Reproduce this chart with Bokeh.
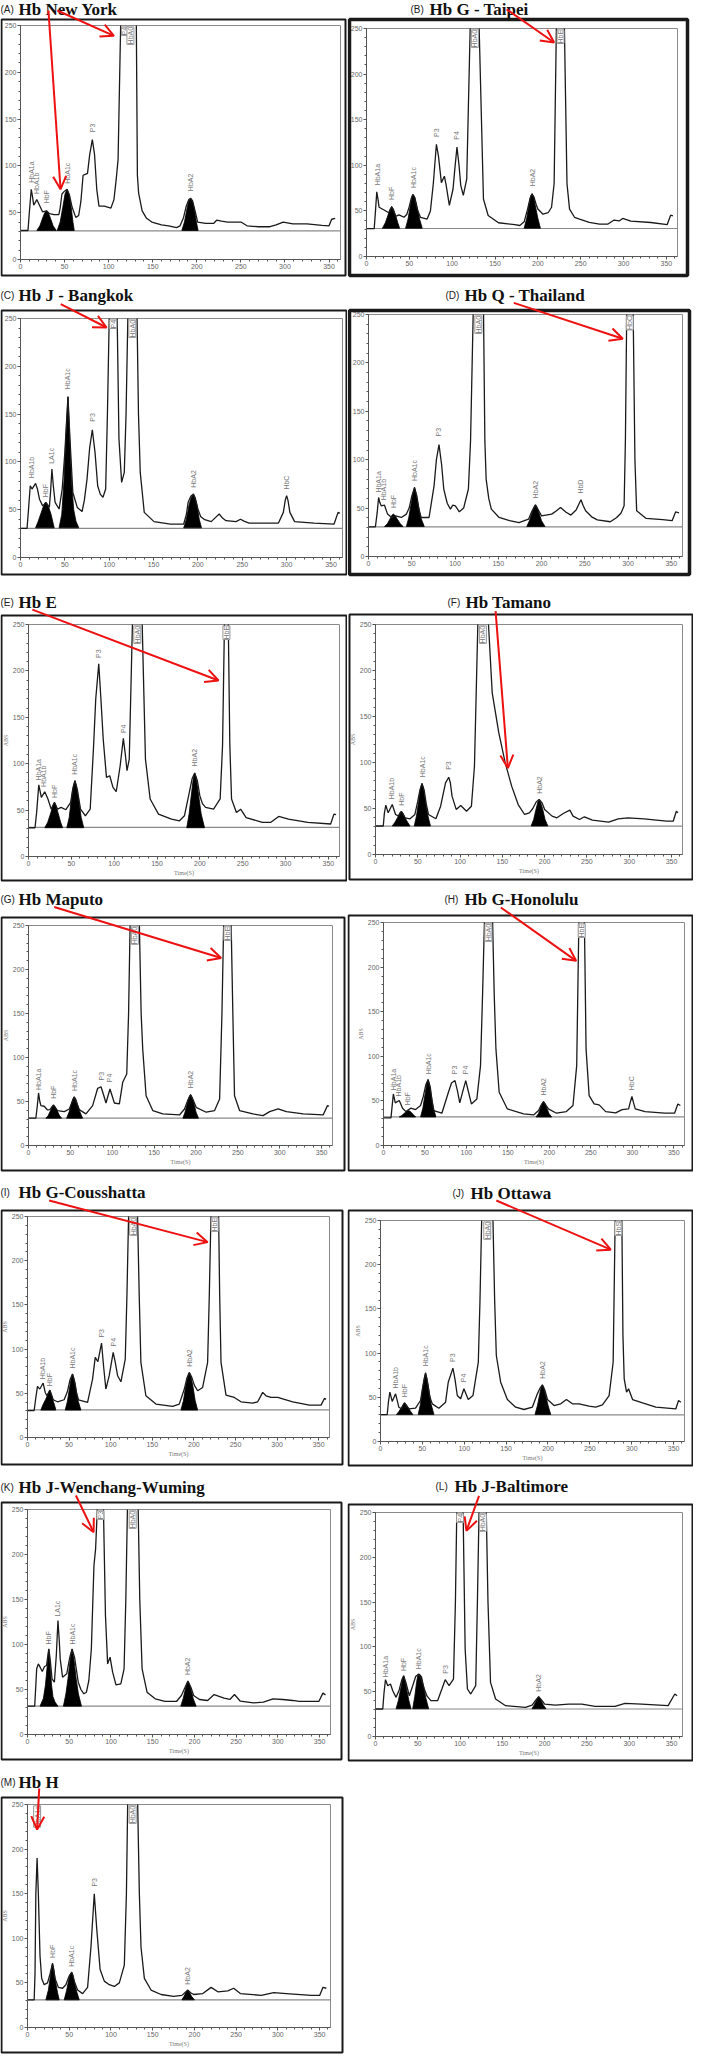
import math
from bokeh.plotting import figure
from bokeh.layouts import column, row
from bokeh.models import Range1d, FixedTicker, BoxAnnotation, Label, Arrow, OpenHead
from bokeh.core.properties import value
from bokeh.embed import file_html
from bokeh.resources import INLINE

# ---------------- data (time s, absorbance) ----------------
X_MAX = 363
Y_MAX = 250
OFF = float("nan")   # peak apex off the 250 scale (not drawn)
X_TICKS = [0, 50, 100, 150, 200, 250, 300, 350]
Y_TICKS = [0, 50, 100, 150, 200, 250]
BASELINE = {"A": 30.5, "B": 30.7, "C": 30.5, "D": 30.7, "E": 31.3, "F": 30.8, "G": 31,
            "H": 32, "I": 31.3, "J": 30.2, "K": 31.5, "L": 30.7, "M": 31}

TITLES = {"A": "Hb New York", "B": "Hb G  - Taipei", "C": "Hb J - Bangkok", "D": "Hb Q  - Thailand",
          "E": "Hb E", "F": "Hb Tamano", "G": "Hb Maputo", "H": "Hb G-Honolulu",
          "I": "Hb G-Cousshatta", "J": "Hb Ottawa", "K": "Hb J-Wenchang-Wuming",
          "L": "Hb J-Baltimore", "M": "Hb H"}

CURVE_A = [(0,31),(8.5,31),(10,50),(12.2,75),(13.5,68),(15,58),(18.5,64),(21,59),(25,51),(29.5,52),(33,49),(38,48),(43.5,48),(45,55),(47,70),(50,73),(52.8,75),(55.5,69),(58.5,56),(62.7,45),(66,47),(68.5,62),(71,90),(73.5,91),(76,92),(78.5,112),(81.5,128),(84,112),(86.5,75),(89,57),(95,57),(102.6,55),(106,64),(108.5,85),(110.7,107),(113.6,250),(122,OFF),(131.4,250),(132.6,90),(134,71),(138,52),(143,44),(149,40),(160,37),(168,36),(177,34),(181,36),(185,45),(188,57),(191,64),(193,65.5),(195,63),(198,52),(201,40),(210,38.5),(219,38.5),(222.5,42),(228,41),(235,40),(250,40),(257,36),(270,35),(283,35),(290,37),(298,40),(309,38),(325,38),(342,36.5),(350,36),(353,43),(357,44)]
CURVE_B = [(0,30.5),(9,30.5),(10.5,50),(12,71),(13.5,62),(14.7,54),(20.5,51),(26,48),(29.4,54),(31.5,50),(34,44),(38,45.7),(43.7,43),(47,46),(50,55),(52,63),(54,68),(56,65),(59,52),(63,43),(70.8,41),(74.6,50),(78,80),(81.6,123),(84,110),(87.4,81),(90.9,88),(93,78),(96.7,56),(101,74),(103,95),(105.6,120),(108,100),(110,78),(113,67),(117,85),(121,250),(126,OFF),(131.5,250),(136.5,63),(142,45),(154,37),(173,35),(179,34),(184,38),(188,52),(191,64),(193,68.5),(195.5,65),(198,57),(200,52),(206,46.4),(212,48),(216,54),(219,80),(221.6,250),(226,OFF),(231,250),(234,80),(237,52),(242.8,43),(248.6,41),(260,37.3),(272,35.4),(281.5,35.4),(289,40),(295,39),(299,41.7),(308.6,38.7),(331.8,37.3),(351,35),(355,45.3),(357.7,44.6)]
CURVE_C = [(0,30.5),(7.4,30.5),(9,50),(11,75),(13,71.6),(17,77.5),(19,72),(21.4,61),(25,54),(28.8,57.7),(32.5,52.4),(34,70),(35.4,92.5),(37,75),(39,57.7),(43.5,50.7),(47,71.6),(50,110),(53.5,168.5),(56,120),(59,68),(64,52.4),(69.4,48),(72,60),(75,82),(78,115),(81,133.6),(84,110),(87,75),(90,66),(93,63),(96,71.6),(98,150),(100,250),(104.5,OFF),(109,250),(111,124),(114,78.6),(117,89),(119,150),(121,250),(126,OFF),(131.4,250),(133,150),(135,89),(139.5,47.2),(150.5,37.5),(169,35),(184,35),(187,45),(189,57.7),(192,64),(195,66.4),(198,58),(200,50.7),(203,43),(207.7,39.5),(215,37.5),(220,42),(224,45.5),(228,41),(231.7,38.5),(243,37.5),(248,40),(252,38),(257.6,36),(290.8,36),(296.3,47.2),(298.5,60),(300,64.6),(301.5,60),(303.7,47.2),(309,37.5),(331,36),(353.5,35),(358,47.2),(360,46.5)]
CURVE_D = [(0,30.7),(8,30.7),(10,45),(11.7,61),(13,56),(14.7,52.4),(18.5,53),(22,43.8),(26.8,40.3),(31.3,42),(38,40.3),(43.8,43.8),(47,50),(50,62),(53.2,71.4),(56,62),(58.5,48),(60.8,40.3),(70,40.3),(75.8,73),(78.5,100),(81.5,115.5),(84.5,95),(87,69.7),(91,55),(94.7,49),(97.5,53),(100.4,52.4),(105,46.2),(110,50),(115.5,69.7),(118,120),(121,250),(127,OFF),(133,250),(134.5,120),(136,80),(139,60),(142,49),(151,40.3),(163,37),(174,35),(185,38.6),(189,47),(193,53.4),(197,47),(200,42),(211.7,43.8),(217,47),(222,50.7),(228,46),(234,42.8),(240,48),(245.6,58.6),(248,53),(251,47.2),(258,41),(264.5,37.9),(279.6,35.9),(287,40.3),(292,45),(295.5,52.4),(297,120),(298.5,250),(302,OFF),(306,250),(308,100),(310,47.2),(321,39.3),(340,38),(351,37),(355,46),(359,45)]
CURVE_E = [(0,31),(7.6,31),(9.5,47.5),(12,77.3),(15,63.7),(19,69.8),(22.7,61.9),(26.5,51),(30.3,58.3),(34,51),(38,52.9),(43.6,50.4),(49.3,58.3),(51.5,72),(54.2,81.7),(57,72),(60.7,51),(66.4,43.9),(72,51),(75.8,115.8),(78.5,170),(82,207.6),(84.5,170),(87.2,126.6),(91,85.3),(94.8,87),(98.6,74.5),(102.4,69.8),(107,97.8),(110.7,127.3),(113,110),(115,92.4),(117.6,105),(121.3,250),(127,OFF),(132.7,250),(136.5,105),(142,61.9),(151.7,45.7),(166.9,40.3),(176.3,38.5),(182,43.9),(187.7,69),(191,84),(194,90),(197,82),(200,65.5),(203,57),(206.7,52.9),(216,51),(223.7,62),(226.5,120),(228.7,250),(231,OFF),(233.2,250),(235,120),(237,62),(242.7,47.5),(247.6,51),(254,42),(273,36.7),(282.5,36.7),(292,43.2),(303.4,40.3),(326,36.7),(352.7,35),(356.5,45.7),(359,45)]
CURVE_F = [(0,31),(9.2,31),(10.5,45),(12.2,53.6),(15,45.3),(19.8,54.3),(23.7,43.5),(27.5,41.7),(30.5,47),(35,39.9),(40.8,38.8),(46.6,43.5),(50,58),(52.5,70),(55,77.2),(57.5,70),(60,55),(62.6,43.5),(71.4,38.8),(77,52.5),(82.8,77.9),(86.6,84),(88.5,78),(90.5,63.4),(95.4,49),(100.8,53.3),(107.6,47),(113.4,52.5),(117,96),(121,250),(127,OFF),(133.6,250),(138,175.7),(145.8,132.2),(153.4,99.6),(161,74.3),(168.7,54.3),(176.3,43.5),(182,45.3),(186,50),(190,57),(193.5,59.8),(197,56),(200,49),(208.8,41.7),(214.5,39.9),(222,44.6),(229.8,48.2),(233.6,41.7),(241.2,38),(247,41),(256.5,37.3),(275.6,35.1),(287,38.8),(298.5,39.9),(317.6,38.8),(344,36.2),(352,36.2),(355.7,47),(357.6,45.3)]
CURVE_G = [(0,31),(8.8,31),(10.5,45),(12,59.7),(13.5,50),(14.8,45.3),(18.7,44.6),(22.7,40.4),(25.5,40.8),(29.9,46),(34.7,39.7),(42.7,38.5),(48.7,41.5),(51.5,48),(54.6,55),(57.5,48),(60.6,40.8),(68.6,35.9),(76.6,45.3),(82.6,65),(86.6,66.8),(89.5,58),(92.5,48.3),(97.3,64.2),(100,56),(102.5,48.3),(108.5,47.2),(112.5,71.8),(117.3,81.2),(119.5,150),(121.3,250),(127,OFF),(132.4,250),(134.5,150),(136.4,109.5),(140.4,56.6),(148.4,39.7),(160.3,35.9),(180.3,34.7),(186.3,41.5),(190,51),(193.5,57.5),(197,51),(200.2,43.4),(212.2,37.8),(222.2,39.7),(228.2,52.9),(231,150),(233,250),(237.5,OFF),(242,250),(244,150),(246,56.6),(252,39.7),(268,35.9),(280,34),(288,38.5),(298,41.5),(308,38.5),(328,35.9),(351.8,34.7),(357,45.3),(359,44.6)]
CURVE_H = [(0,31),(9,31),(10.5,45),(11.9,57.8),(14.2,47.8),(19,50.4),(23,41.8),(27,38),(32.8,41.8),(38.7,40.3),(44.7,44.8),(48,55),(51,68),(53.8,73.9),(56.5,65),(58.5,50),(60.5,39.2),(70.4,36.2),(78.3,59.7),(82,70),(86.2,72.8),(89,62),(92,47.8),(96,62),(99.2,72.8),(102.5,60),(106,46.6),(112.6,52.2),(117,89.6),(119.5,170),(121.7,250),(126.5,OFF),(131.6,250),(133.5,170),(135.6,108),(139.5,59.7),(149.4,41),(169,35.4),(181,34.3),(187,39.2),(190,45),(193,49.3),(196,45),(198.8,41),(208.7,36.2),(220.5,38),(228.5,44.8),(233,89.6),(235.6,250),(239,OFF),(242.3,250),(244.3,108),(248,56),(254,46.6),(260,45.5),(268,38),(280,36.6),(287.7,40.3),(295.6,41),(297.5,48),(299.6,54.9),(301.5,48),(303.6,41),(315.4,38),(339,36.2),(351,36.2),(355,46.6),(358,44.8)]
CURVE_I = [(0,30.5),(8,30.5),(10,45),(12,57.8),(14.8,54.8),(18.8,61.6),(21.3,51),(23.3,47.2),(26.9,53.6),(30.9,42.7),(36,40.4),(44,42.7),(48,52),(51,65),(54.1,71.8),(57,62),(59,50),(61.3,42.7),(72.2,39.7),(78.2,66),(81.4,90.6),(84.6,85.7),(89,106.9),(91.5,80),(94.2,54.8),(98.2,69.9),(103,96.3),(105.5,85),(108.3,69.9),(112.3,63),(117.5,88.7),(119.5,160),(121.5,250),(126.5,OFF),(132.3,250),(134.3,160),(136.3,85),(142.3,47.2),(154.4,37.8),(174.4,35.1),(182.4,37.8),(188.5,54.8),(191.5,67),(194.5,73.6),(197.5,68),(200.5,59.3),(204.5,52.9),(210.5,56.6),(216.5,85),(218.5,160),(220.5,250),(225,OFF),(229.7,250),(231,160),(232.6,85),(238.6,48),(248.6,45.3),(256.6,40.4),(270.6,38.9),(276.7,40.4),(282.7,51),(286.7,47.2),(292.7,45.3),(300.7,45.3),(318.8,40.4),(338.8,36.6),(352.8,36.6),(356.9,44.2),(358.9,43.4)]
CURVE_J = [(0,30.5),(8,30.5),(9.5,45),(11.2,55.8),(14,45.3),(18,53.9),(21.9,38.8),(25.1,37),(28.7,43.7),(33.9,37),(41.8,37.7),(47.8,46.4),(50.5,62),(53.8,77.7),(56.5,65),(59,50),(61.8,42.6),(69.7,37.7),(77.7,44.5),(80.9,67.1),(86.5,83),(89,70),(91.7,52),(95.7,48.3),(99.6,59.6),(104.8,47.5),(110.4,52),(116.8,89.7),(118.8,160),(120.8,250),(127.5,OFF),(134.3,250),(136.3,160),(138.3,97.3),(143.5,67.1),(151.5,47.5),(161.4,38.8),(171.4,36.2),(181.3,38.8),(187.3,53.9),(190.3,60),(193.3,64.1),(196.3,58),(199.3,47.5),(207.3,40.7),(215.2,42.6),(222,47.5),(229.2,42.6),(237.1,42.6),(249,40),(257,38.8),(265,41.5),(273,52),(277.8,89.7),(280.2,250),(284,OFF),(288.2,250),(289.5,120),(291,70.9),(293.8,55.8),(296.2,59.6),(301,47.5),(312.9,43.7),(328.8,38.8),(352.7,37),(355.9,46.4),(358.7,44.5)]
CURVE_K = [(0,31.5),(8.6,31.5),(10,55),(11,73),(13,78.5),(15.7,73.7),(17.7,70),(20.4,75.6),(22.8,76.7),(24,85),(25.5,95.2),(27,85),(29.4,61.9),(32.2,58.1),(34.5,87.8),(36.5,126.7),(38,105),(39.2,84),(42,63.7),(47,67.4),(50.5,85),(53.4,95.2),(56.5,85),(60.8,58.1),(64,50),(67.5,45.2),(70.6,47),(73.5,60),(76.5,95.2),(79.6,187.8),(81.6,206.3),(83.6,250),(87.3,OFF),(91,250),(93.4,132.2),(96,78.5),(98.9,85.9),(102,69.3),(106,55.2),(111.8,56.3),(115.7,73),(117.8,150),(119.7,250),(126,OFF),(132.6,250),(134.5,150),(137.3,73),(143.2,47),(153,39.6),(164.8,36.7),(178.5,36.7),(184.4,43.3),(188.5,52),(192.2,59.3),(196,52),(199,43.3),(206,38.9),(215.8,37.8),(223.6,44.4),(235.4,40.4),(242.4,38.9),(248,44.4),(255,37),(270.7,35.2),(282.5,35.9),(294.2,39.6),(306,38.9),(317.8,37.8),(325.6,36.7),(349,36.7),(353.9,46),(357,44)]
CURVE_L = [(0,30.7),(8.6,30.7),(10,48),(11.8,63.4),(14.5,56.7),(17.7,58.6),(20.4,51.1),(24.3,43.7),(28,52),(31,63),(33.3,67.8),(36,60),(40,45.5),(44,56.7),(47.5,67),(51,69.7),(54,64),(57.7,53),(61,45),(65.5,40),(73.4,40),(78.5,53),(82.4,63.4),(87,56.7),(92.2,64.1),(94.5,150),(96.1,250),(100,OFF),(103.6,250),(106,97.6),(108.7,53),(112.6,47.4),(118.5,56.7),(120.5,150),(122.4,250),(127,OFF),(131,250),(133,150),(136,60.4),(142,41.8),(153.8,34.4),(177.3,32.5),(185.2,35.1),(189,40),(193,44.4),(197,40),(200,36.2),(212.6,35.1),(228.3,36.2),(244,36.2),(259.7,33.6),(283.2,33.6),(295,37),(314.6,36.2),(346,34.4),(353.9,47.4),(356.6,45.5)]
CURVE_M = [(0,31),(8,31),(9,60),(10,150),(11.5,190),(13,150),(15,80),(17,55),(20,48),(24,50),(27,60),(30,72),(33,55),(37,45),(42,44),(46,48),(50,58),(53,62),(56,52),(60,42),(66,38),(72,45),(76,90),(80,150),(83,110),(87,65),(92,52),(98,48),(104,46),(110,50),(116,70),(118.5,150),(120,250),(126,OFF),(132,250),(134,150),(136,90),(140,55),(148,42),(160,37),(175,35),(185,36),(188.5,39),(192,42),(195.5,39),(199,37),(210,38),(220,45),(228,40),(240,41),(247,44),(255,38),(280,36),(295,39),(310,38),(340,36),(350,36),(354,45),(358,44)]

FILL_A = [[(18.5,31),(22,36),(25,44),(27.5,50),(29.5,52),(31.5,50),(34,44),(37,36),(40.6,31)],
          [(41.7,31),(45,40),(48,56),(50.5,70),(52.8,75),(55,70),(57.5,56),(59.5,40),(61,31)],
          [(183,31),(186,40),(189,55),(191,63),(193,65),(195,63),(197,55),(199.5,40),(201.5,31)]]
FILL_B = [[(18.6,31),(22,37),(25,45),(27.5,52),(29.4,55),(31.5,52),(34,45),(36.5,37),(38.7,31)],
          [(45.6,31),(48.5,41),(51,55),(53,65),(54.5,68),(56.5,65),(59,55),(62,41),(65,31)],
          [(184,31),(187,42),(189.5,56),(191.5,66),(193.3,69),(195,66),(197,56),(200,42),(203,31)]]
FILL_C = [[(17,31),(20,38),(23,46),(26,54),(28,57.7),(30,55),(32,52),(34.5,45),(36.5,37),(38,31)],
          [(43.5,31),(46.5,45),(49,80),(51,125),(53.5,168),(55.5,125),(57.5,80),(60,50),(62.5,38),(65.7,31)],
          [(184,31),(187,40),(190,55),(192.5,63),(195,66),(197,63),(199,55),(201.5,40),(204,31)]]
FILL_D = [[(18.5,31),(22,34),(25,39),(27,42.5),(28.7,43.8),(30.5,42.5),(33,39),(36.5,34),(40,31)],
          [(43.8,31),(46.5,40),(49,53),(51.3,65),(53.2,71.4),(55,65),(57.5,53),(60.5,40),(64.5,31)],
          [(183,31),(186,37),(189,45),(191.3,51),(193,53.4),(194.8,51),(197,45),(200,37),(204,31)]]
FILL_E = [[(19,31),(22.5,37),(26,47),(28.5,55),(30.3,58.3),(32,55),(34.5,47),(37.5,37),(39.8,31)],
          [(44.7,31),(47.5,42),(50,62),(52.3,76),(54.2,81.7),(56,76),(58.5,62),(61.5,42),(64.5,31)],
          [(184.7,31),(187.5,46),(190.5,70),(192.5,85),(194,90),(195.7,85),(198,70),(201.5,46),(205.5,31)]]
FILL_F = [[(19.8,31),(23,35),(26,40),(28.5,45),(30.5,47),(32.5,45),(35,40),(38,35),(40.8,31)],
          [(45.8,31),(48.5,42),(51,58),(53.2,72),(55,77.2),(56.8,72),(59,58),(62,42),(65,31)],
          [(184,31),(187,38),(190,50),(192,57),(193.5,59.8),(195,57),(197.5,50),(200.5,38),(203.8,31)]]
FILL_G = [[(20.7,31),(23.5,34),(26.5,40),(28.5,44.5),(29.9,46),(31.5,44.5),(34,40),(37,34),(39.5,31)],
          [(45.5,31),(48.5,38),(51,47),(53,53),(54.6,55.5),(56.5,53),(58.5,47),(61.5,38),(64.6,31)],
          [(184.3,31),(187,38),(189.5,48),(191.7,55),(193.5,58),(195.3,55),(197.5,48),(200,38),(203,31)]]
FILL_H = [[(19,32),(22,33.5),(25.5,36.5),(28.9,39.2),(32,38.5),(35.5,35),(38.7,32)],
          [(44.7,32),(47.5,42),(50,57),(52.2,69),(53.8,74),(55.4,69),(57.5,57),(60.3,42),(63.2,32)],
          [(184,32),(187,36),(189.7,43),(191.6,47.5),(193,49.3),(194.5,47.5),(196.5,43),(199.5,36),(202.8,32)]]
FILL_I = [[(16,31),(19,38),(22,43.4),(24.5,49),(26.9,53.6),(29,48),(31,41),(33,35),(34,31)],
          [(45.3,31),(48,41),(50.5,56),(52.5,67),(54.1,71.8),(55.8,67),(58,56),(61,41),(64.2,31)],
          [(184.4,31),(187.5,42),(190,57),(192.5,69),(194.5,73.6),(196.5,69),(199,57),(201.5,42),(204.5,31)]]
FILL_J = [[(19.1,30.5),(22,34),(25,38.5),(27.3,42.3),(28.7,43.7),(30.3,42.3),(33,38.5),(36,34),(38.7,30.5)],
          [(45,30.5),(47.7,42),(50.2,60),(52.2,72),(53.8,77.7),(55.4,72),(57.5,60),(60.5,42),(63.8,30.5)],
          [(184.5,30.5),(187.5,41),(190,53),(191.8,61),(193.3,64),(194.8,61),(197,53),(200,41),(203.3,30.5)]]
FILL_K = [[(15,31.5),(19,40),(21.5,55),(23.5,75),(25.5,95),(27.2,75),(28.8,55),(30.5,42),(33,36),(36.5,31.5)],
          [(43,31.5),(46,45),(48.5,62),(51,82),(53.4,95),(55.8,82),(58.3,62),(61,45),(64.7,31.5)],
          [(183.6,31.5),(186.5,40),(189,50),(190.8,56),(192.2,59.3),(193.8,56),(196,50),(198.5,40),(202,31.5)]]
FILL_L = [[(24.3,31),(27,40),(29.5,52),(31.5,62),(33.3,67.8),(35,62),(37,52),(39.5,40),(42,31)],
          [(44,31),(46.5,45),(48.5,60),(50,68),(52,69.7),(54.5,67),(56.5,58),(59.5,43),(62.8,31)],
          [(185,31),(187.5,35),(190,40),(191.7,43.2),(193,44.4),(194.3,43.2),(196,40),(198.5,35),(201.6,31)]]
FILL_M = [[(22,31),(25,42),(27.5,58),(29,68),(30,72),(31.5,66),(33.5,52),(36,39),(38,31)],
          [(44,31),(47,42),(49.5,54),(51.5,60),(53,62),(54.5,59),(56.5,50),(59,40),(62,31)],
          [(185,31),(187.5,35),(190,39.5),(192,42),(194,39.5),(196.5,35),(200,31)]]

LABELS_A = [("HbA1a",12.2,82),("HbA1b",18.5,70),("HbF",29.5,60),("HbA1c",53,81),("P3",81.5,136),("HbA2",193,73)]
LABELS_B = [("HbA1a",12.5,78),("HbF",29.5,62),("HbA1c",54.5,75),("P3",81.6,131),("P4",105.6,128),("HbA2",193.3,77)]
LABELS_C = [("HbA1b",12,83),("HbF",28.5,63),("LA1c",35.5,98),("HbA1c",53.5,176),("P3",81,142),("HbA2",195,73),("HbC",300,71)]
LABELS_D = [("HbA1a",12,66),("HbA1b",17.5,58),("HbF",29,50),("HbA1c",53.2,78),("P3",81.5,124),("HbA2",193,60),("HbD",245.6,65)]
LABELS_E = [("HbA1a",12,82),("HbA1b",18,75),("HbF",30.3,63),("HbA1c",54.2,88),("P3",82,214),("P4",110.7,133),("HbA2",194,97)]
LABELS_F = [("HbA1b",19.3,60),("HbF",30.5,53),("HbA1c",55,84),("P3",86.6,92),("HbA2",193.5,66)]
LABELS_G = [("HbA1a",12,63),("HbF",30,53),("HbA1c",54.6,62),("P3",86.6,74),("P4",97.3,72),("HbA2",193.5,65)]
LABELS_H = [("HbA1a",12,62),("HbA1b",18,55),("HbF",29,45),("HbA1c",53.8,80),("P3",86.2,80),("P4",99.2,80),("HbA2",193,56),("HbC",299.6,62)]
LABELS_I = [("HbA1b",18.5,66),("HbF",27,58),("HbA1c",54.1,78),("P3",88.5,113),("P4",103,103),("HbA2",194.5,80)]
LABELS_J = [("HbA1b",18,60),("HbF",28.7,50),("HbA1c",53.8,85),("P3",86.5,90),("P4",99.6,67),("HbA2",193.3,71)]
LABELS_K = [("HbF",25.5,100),("LA1c",36.5,131),("HbA1c",53.4,100),("HbA2",192.2,66)]
LABELS_L = [("HbA1a",12,66),("HbF",33.3,73),("HbA1c",51,75),("P3",82.4,70),("HbA2",193,50)]
LABELS_M = [("HbF",30,78),("HbA1c",53,68),("P3",80,158),("HbA2",192,48)]

BOXED_A = [("P4",118.5),("HbA0",124.7)]
BOXED_B = [("HbA0",126.5),("HbE",226.5)]
BOXED_C = [("P4",104.5),("HbA0",126)]
BOXED_D = [("HbA0",127),("HbC",302)]
BOXED_E = [("HbA0",127),("HbE",231)]
BOXED_F = [("HbA0",127)]
BOXED_G = [("HbA0",127),("HbE",237.5)]
BOXED_H = [("HbA0",126.5),("HbE",239)]
BOXED_I = [("HbA0",127),("HbE",225)]
BOXED_J = [("HbA0",127.5),("HbS",284)]
BOXED_K = [("P3",87.3),("HbA0",126)]
BOXED_L = [("P4",100),("HbA0",127)]
BOXED_M = [("HbA1a",11.5),("HbA0",126)]

ARROWS = {"A": [(31.7,266,45.4,75),(41.7,266,106,239)], "B": [(163.6,271,219,234.6)],
          "C": [(45.4,265,97,240.6)], "D": [(168,262,294,225)], "E": [(4.5,266,221.8,189.6)],
          "F": [(142,264.5,156.5,94)], "G": [(30.7,271,230,213)], "H": [(141.5,266.8,232.4,207)],
          "I": [(26,268,216.5,221)], "J": [(138.3,272.6,275,217)], "K": [(58,265.6,79.2,224.8)],
          "L": [(122.4,268.6,107.5,229.5)], "M": [(14,268,11.5,222)]}

# ---------------- layout geometry (pixels) ----------------
# (width, height, plot-area offsets l, r, t, b, outer box x0,y0,x1,y1, box line width,
#  letter x, name x, title y, axis titles)
GEOM = {
    "A": (347, 287, 20, 7, 25, 28, (1, 19, 345, 275), 2, 0, 18, 9, False),
    "B": (346, 287, 19, 16, 28, 31, (2, 19, 340, 275), 3.5, 63, 82, 9, False),
    "C": (347, 297, 20, 5, 31, 27, (1, 23, 346, 287), 2, 0, 18, 8, False),
    "D": (346, 297, 21, 11, 27, 28, (2, 23, 342, 287), 3.5, 98, 117, 8, False),
    "E": (347, 303, 28, 8, 40, 31, (1, 31, 346, 296), 2, 0, 18, 18, True),
    "F": (346, 303, 28, 11, 40, 33, (2, 30, 345, 295), 2, 100, 118, 18, True),
    "G": (347, 293, 28, 15, 38, 35, (1, 30, 344, 283), 2, 0, 18, 12, True),
    "H": (346, 293, 36, 9, 35, 35, (1, 28, 345, 283), 2, 97, 117, 12, True),
    "I": (347, 295, 27, 18, 36, 38, (1, 30, 342, 284), 2, 0, 18, 12, True),
    "J": (346, 295, 33, 9, 40, 34, (1, 30, 345, 285), 2, 105, 123, 13, True),
    "K": (347, 295, 27, 17, 34, 36, (1, 27, 341, 284), 2, 0, 18, 12, True),
    "L": (346, 295, 28, 11, 37, 34, (1, 29, 345, 285), 2, 88, 107, 11, True),
    "M": (347, 286, 27, 17, 34, 29, (1, 27, 342, 282), 2, 0, 18, 12, True),
}

DATA = {"A": (CURVE_A, FILL_A, LABELS_A, BOXED_A), "B": (CURVE_B, FILL_B, LABELS_B, BOXED_B),
        "C": (CURVE_C, FILL_C, LABELS_C, BOXED_C), "D": (CURVE_D, FILL_D, LABELS_D, BOXED_D),
        "E": (CURVE_E, FILL_E, LABELS_E, BOXED_E), "F": (CURVE_F, FILL_F, LABELS_F, BOXED_F),
        "G": (CURVE_G, FILL_G, LABELS_G, BOXED_G), "H": (CURVE_H, FILL_H, LABELS_H, BOXED_H),
        "I": (CURVE_I, FILL_I, LABELS_I, BOXED_I), "J": (CURVE_J, FILL_J, LABELS_J, BOXED_J),
        "K": (CURVE_K, FILL_K, LABELS_K, BOXED_K), "L": (CURVE_L, FILL_L, LABELS_L, BOXED_L),
        "M": (CURVE_M, FILL_M, LABELS_M, BOXED_M)}

SANS = value("Liberation Sans")


def make_panel(key):
    W, H, l, r, t, b, box, bw, lx, nx, ty, axis_titles = GEOM[key]
    curve, fills, labels, boxed = DATA[key]
    # the frame fills the whole canvas; the plot area (0..X_MAX, 0..Y_MAX) sits inside it
    sx = X_MAX / (W - l - r)
    sy = Y_MAX / (H - t - b)
    xlo, xhi = -l * sx, X_MAX + r * sx
    ylo, yhi = -b * sy, Y_MAX + t * sy
    px = lambda c: xlo + c * sx          # canvas px -> data x
    py = lambda c: yhi - c * sy          # canvas px (from top) -> data y

    p = figure(width=W, height=H, x_range=Range1d(xlo, xhi), y_range=Range1d(ylo, yhi),
               output_backend="svg", toolbar_location=None, title=None,
               min_border_left=0, min_border_right=0, min_border_top=0, min_border_bottom=0)
    p.background_fill_color = "white"
    p.border_fill_color = "white"
    p.outline_line_color = None
    p.xgrid.visible = False
    p.ygrid.visible = False
    for ax, ticks, minor, bounds in ((p.xaxis[0], X_TICKS, list(range(0, 361, 10)), (0, X_MAX)),
                                     (p.yaxis[0], Y_TICKS, list(range(0, 251, 10)), (0, Y_MAX))):
        ax.fixed_location = 0
        ax.bounds = bounds
        ax.ticker = FixedTicker(ticks=ticks, minor_ticks=minor)
        ax.axis_line_color = "#555555"
        ax.major_tick_line_color = "#555555"
        ax.minor_tick_line_color = "#555555"
        ax.major_tick_in = 0
        ax.major_tick_out = 3
        ax.minor_tick_in = 0
        ax.minor_tick_out = 2
        ax.major_label_text_font_size = "7px"
        ax.major_label_text_color = "#666666"
        ax.major_label_text_font = "Liberation Sans"
        ax.major_label_standoff = 1
        if axis_titles:
            ax.axis_label_text_font_size = "6px"
            ax.axis_label_text_font_style = "normal"
            ax.axis_label_text_color = "#777777"
            ax.axis_label_text_font = "Liberation Serif"
            ax.axis_label_standoff = 1
    if axis_titles:
        p.xaxis[0].axis_label = "Time(S)"
        p.yaxis[0].axis_label = "ABS"

    # plot-area border
    p.add_layout(BoxAnnotation(left=0, right=X_MAX, bottom=0, top=Y_MAX, fill_alpha=0,
                               line_color="#8a8a8a", line_alpha=1, line_width=1, level="underlay"))

    base = BASELINE[key]
    p.line([0, X_MAX], [base, base], line_color="#8a8a8a", line_width=1.2)

    for pk in fills:
        p.patch([q[0] for q in pk], [q[1] for q in pk], fill_color="black", line_color="black", line_width=0.8)

    p.line([q[0] for q in curve], [q[1] for q in curve], line_color="#1a1a1a", line_width=1.3)

    p.text(x=[q[1] for q in labels], y=[q[2] for q in labels], text=[q[0] for q in labels],
           angle=math.pi / 2, text_font=SANS, text_font_size="7px", text_color="#777777",
           text_align="left", text_baseline="middle")
    p.text(x=[q[1] for q in boxed], y=[248.5] * len(boxed), text=[q[0] for q in boxed],
           angle=math.pi / 2, text_font=SANS, text_font_size="7px", text_color="#777777",
           text_align="right", text_baseline="middle",
           background_fill_color="white", border_line_color="#999999")

    x0, y0, x1, y1 = box
    p.add_layout(BoxAnnotation(left=px(x0), right=px(x1), top=py(y0), bottom=py(y1),
                               fill_alpha=0, line_color="#1a1a1a", line_alpha=1, line_width=bw))
    p.add_layout(Label(x=px(lx), y=py(ty), text="(%s)" % key,
                       text_font="Liberation Sans", text_font_size="10px", text_color="#222222",
                       text_baseline="middle", text_align="left"))
    p.add_layout(Label(x=px(nx), y=py(ty), text=TITLES[key],
                       text_font="Liberation Serif", text_font_size="17px", text_font_style="bold",
                       text_color="#111111", text_baseline="middle", text_align="left"))
    for (xs, ys, xe, ye) in ARROWS[key]:
        p.add_layout(Arrow(x_start=xs, y_start=ys, x_end=xe, y_end=ye,
                           line_color="#ee1111", line_width=2,
                           end=OpenHead(size=13, line_color="#ee1111", line_width=2)))
    return p


panels = {k: make_panel(k) for k in "ABCDEFGHIJKLM"}
layout = column(
    row(panels["A"], panels["B"]),
    row(panels["C"], panels["D"]),
    row(panels["E"], panels["F"]),
    row(panels["G"], panels["H"]),
    row(panels["I"], panels["J"]),
    row(panels["K"], panels["L"]),
    row(panels["M"]),
)

open("out.html", "w").write(file_html(layout, INLINE))
